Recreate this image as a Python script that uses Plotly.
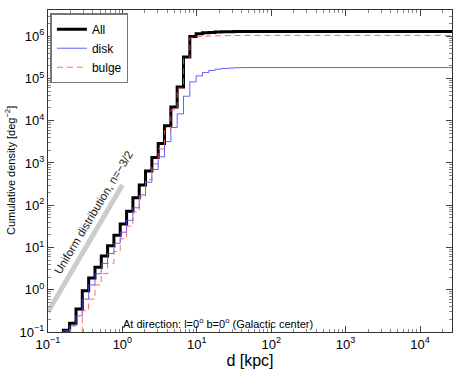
import plotly.graph_objects as go

# distance bin edges [kpc] (cumulative value is reached at the end of each bin)
d_edges = [0.161, 0.195, 0.238, 0.289, 0.352, 0.428, 0.520, 0.632, 0.769, 0.935,
           1.138, 1.384, 1.683, 2.046, 2.489, 3.027, 3.681, 4.477, 5.445, 6.622,
           8.054, 9.795, 11.91, 14.49, 17.62, 21.43, 26.06, 31.69, 38.55, 46.88]
d_end = 27000.0

# cumulative densities [deg^-2], one per bin, plus the value reached at d_end
all_vals = [0.11, 0.16, 0.35, 0.95, 1.9, 3.4, 6.3, 11, 19.5, 36,
            72, 150, 300, 650, 1350, 2900, 7600, 2.1e4, 6.3e4, 3.2e5,
            9.8e5, 1.15e6, 1.2e6, 1.23e6, 1.25e6, 1.27e6, 1.28e6, 1.29e6, 1.30e6]
all_end = 1.32e6

disk_vals = [0.107, 0.14, 0.24, 0.6, 1.3, 2.4, 4.2, 7.2, 12.6, 23,
             44, 87, 175, 350, 700, 1400, 3200, 6900, 1.45e4, 3.8e4,
             8.3e4, 1.15e5, 1.38e5, 1.55e5, 1.66e5, 1.72e5, 1.76e5, 1.79e5, 1.81e5]
disk_end = 1.87e5

bulge_vals = [0.01, 0.01, 0.01, 0.32, 0.6, 1.3, 2.4, 4.2, 8, 16,
              32, 70, 160, 400, 950, 2150, 5800, 1.8e4, 5.9e4, 3.0e5,
              9.1e5, 9.8e5, 1.0e6, 1.01e6, 1.02e6, 1.03e6, 1.035e6, 1.04e6, 1.045e6]
bulge_end = 1.05e6

# uniform distribution reference line (n = -3/2 -> N ~ d^3)
uni_d = [0.1, 1.0]
uni_n = [0.3, 300]

x_exps = [-1, 0, 1, 2, 3, 4]
y_exps = [-1, 0, 1, 2, 3, 4, 5, 6]

FONT = 'Liberation Sans, Arial, sans-serif'


def steps(vals, end_val):
    # hv step line starting from below the axis at the first edge
    xs = [d_edges[0]] + d_edges[:len(vals)] + [d_end]
    ys = [0.01] + vals + [end_val]
    return xs, ys


def pow_labels(exps):
    return [10.0 ** e for e in exps], ['10<sup>%s</sup>' % str(e).replace('-', '−') for e in exps]


fig = go.Figure()

fig.add_trace(go.Scatter(x=uni_d, y=uni_n, mode='lines', showlegend=False,
                         line=dict(color='#cccccc', width=5)))

x, y = steps(all_vals, all_end)
fig.add_trace(go.Scatter(x=x, y=y, mode='lines', name='All', line_shape='hv',
                         line=dict(color='black', width=3)))
x, y = steps(disk_vals, disk_end)
fig.add_trace(go.Scatter(x=x, y=y, mode='lines', name='disk', line_shape='hv',
                         line=dict(color='rgba(70,70,255,0.85)', width=1)))
x, y = steps(bulge_vals, bulge_end)
fig.add_trace(go.Scatter(x=x, y=y, mode='lines', name='bulge', line_shape='hv',
                         line=dict(color='rgba(255,80,80,0.85)', width=1, dash='6px,4px')))

axis_common = dict(
    type='log', showgrid=False, zeroline=False, automargin=False,
    ticks='inside', ticklen=6, tickcolor='#444', mirror='allticks',
    showline=True, linecolor='#333', linewidth=1,
    tickfont=dict(family=FONT, size=13, color='black'),
    minor=dict(ticks='inside', ticklen=3, tickcolor='#888', showgrid=False,
               dtick='D1'),
)

xt, xl = pow_labels(x_exps)
yt, yl = pow_labels(y_exps)

fig.update_layout(
    width=463, height=373,
    margin=dict(l=48, r=11, t=10, b=41),
    paper_bgcolor='white', plot_bgcolor='white',
    font=dict(family=FONT, color='black'),
    xaxis=dict(range=[-1, 4.43], tickvals=xt, ticktext=xl,
               title=dict(text='d [kpc]', font=dict(size=16), standoff=2),
               **axis_common),
    yaxis=dict(range=[-1, 6.62], tickvals=yt, ticktext=yl, **axis_common),
    legend=dict(x=0.006, y=0.99, xanchor='left', yanchor='top',
                bgcolor='white', bordercolor='#777', borderwidth=1.5,
                font=dict(size=12), tracegroupgap=0, itemwidth=30),
    annotations=[
        dict(text='Cumulative density [deg<sup>−2</sup>]', x=-0.094, y=0.5,
             xref='paper', yref='paper', xanchor='center', yanchor='middle',
             textangle=-90, showarrow=False, font=dict(size=11)),
        dict(text='Uniform distribution, n=−3/2', x=-0.342, y=1.71, xref='x', yref='y',
             textangle=-59, showarrow=False, font=dict(size=11.5, color='#222'),
             xshift=-3, yshift=5),
        dict(text='At direction: l=0<sup>o</sup> b=0<sup>o</sup> (Galactic center)',
             x=0.42, y=0.0, xref='paper', yref='paper', xanchor='center', yanchor='bottom',
             showarrow=False, font=dict(size=11, color='black')),
    ],
)

fig.write_html('out.html', config={'displayModeBar': False},
               post_script="document.body.style.margin='0';")
